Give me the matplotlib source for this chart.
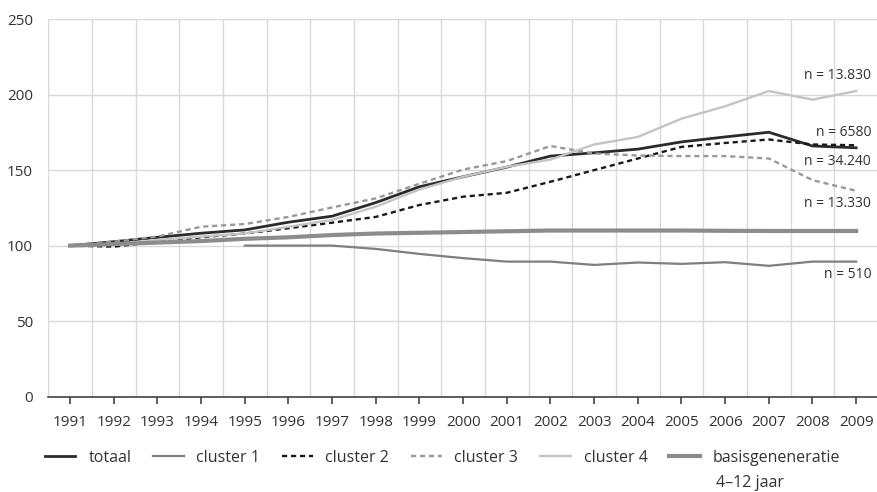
import numpy as np
import matplotlib
matplotlib.use("Agg")
import matplotlib.pyplot as plt

plt.rcParams['font.family'] = ['Open Sans', 'DejaVu Sans']

years = list(range(1991, 2010))

# indexcijfers (1991 = 100)
totaal = [100, 102.6, 105.5, 108.2, 110.4, 115.5, 119.5, 128.5, 139, 145.6,
          152, 159.3, 161.5, 163.9, 168.7, 172, 175.1, 166, 164.8]
cluster1_years = list(range(1995, 2010))
cluster1 = [100, 100, 100, 97.8, 94.5, 91.7, 89.4, 89.4, 87.2, 88.8,
            87.9, 89, 86.6, 89.4, 89.4]
cluster2 = [100, 99.3, 102.6, 105.5, 108, 111.5, 115.2, 119, 126.9, 132.4,
            135, 142.3, 150, 157.7, 165.4, 168, 170.3, 167, 166.5]
cluster3 = [100, 102.6, 106, 112.5, 114.3, 119, 125.3, 131.3, 141, 150.4,
            156, 166, 161, 159.7, 159.3, 159.3, 157.7, 143.4, 136.3]
cluster4 = [100, 100.6, 103.7, 106, 108, 112.5, 117, 125.8, 137.2, 145.6,
            152.2, 157, 167, 172, 184.1, 192.3, 202.4, 196.7, 202.4]
basis = [100, 101, 102, 103, 104.5, 105.5, 107, 108, 108.5, 109,
         109.5, 110, 110, 110, 110, 109.8, 109.7, 109.7, 109.7]

labels = ['totaal', 'cluster 1', 'cluster 2', 'cluster 3', 'cluster 4',
          'basisgeneneratie']
label_extra = '4\u201312 jaar'
n_labels = ['n = 6580', 'n = 510', 'n = 34.240', 'n = 13.330', 'n = 13.830']

fig = plt.figure(figsize=(8.78, 4.92), dpi=100)
ax = fig.add_axes([0.055, 0.194, 0.945, 0.767])

ax.plot(years, totaal, color='#2b2b2b', lw=2.0, label=labels[0])
ax.plot(cluster1_years, cluster1, color='#7f7f7f', lw=1.6, label=labels[1])
ax.plot(years, cluster2, color='#1a1a1a', lw=1.7, dashes=(2.2, 1.6), label=labels[2])
ax.plot(years, cluster3, color='#999999', lw=1.7, dashes=(2.2, 1.6), label=labels[3])
ax.plot(years, cluster4, color='#c4c4c4', lw=1.7, label=labels[4])
ax.plot(years, basis, color='#8c8c8c', lw=3.0, label=labels[5])

# n-labels rechts
px = 72 / 100  # pixels -> points
ann = [(totaal[-1], 15), (cluster1[-1], -13), (cluster2[-1], -16),
       (cluster3[-1], -13), (cluster4[-1], 16)]
for txt, (val, dy) in zip(n_labels, ann):
    ax.annotate(txt, xy=(years[-1], val), xytext=(15 * px, dy * px),
                textcoords='offset points', ha='right', va='center',
                fontsize=10, color='#333333', annotation_clip=False)

ax.set_xlim(1990.5, 2009.5)
ax.set_ylim(0, 250)
ax.set_yticks([0, 50, 100, 150, 200, 250])
ax.set_xticks(years)
ax.set_xticks(np.arange(1990.5, 2010, 1), minor=True)

ax.grid(False)
ax.xaxis.grid(True, which='minor', color='#d9d9d9', lw=1.0)
ax.yaxis.grid(True, which='major', color='#d9d9d9', lw=1.0)
ax.set_axisbelow(True)

for s in ['top', 'right', 'left']:
    ax.spines[s].set_visible(False)
ax.spines['bottom'].set_color('#444444')
ax.spines['bottom'].set_linewidth(1.2)

ax.tick_params(axis='x', which='major', direction='out', length=5, width=1.2,
               color='#444444', labelsize=11, labelcolor='#333333', pad=8)
ax.tick_params(axis='x', which='minor', length=0)
ax.tick_params(axis='y', length=0, labelsize=11, labelcolor='#333333', pad=11)

leg = fig.legend(loc='center left', bbox_to_anchor=(0.035, 1 - 458 / 492), ncol=6,
                 frameon=False, fontsize=11.5, handlelength=1.9, handletextpad=0.8,
                 columnspacing=1.38, labelcolor='#333333')

# tweede regel van het laatste legendalabel
fig.canvas.draw()
bb = leg.get_texts()[-1].get_window_extent()
fig.text((bb.x0 + 3) / fig.bbox.width, (bb.y0 - 9) / fig.bbox.height, label_extra,
         fontsize=11.5, color='#333333', ha='left', va='top')

fig.savefig('out.png', dpi=100)
